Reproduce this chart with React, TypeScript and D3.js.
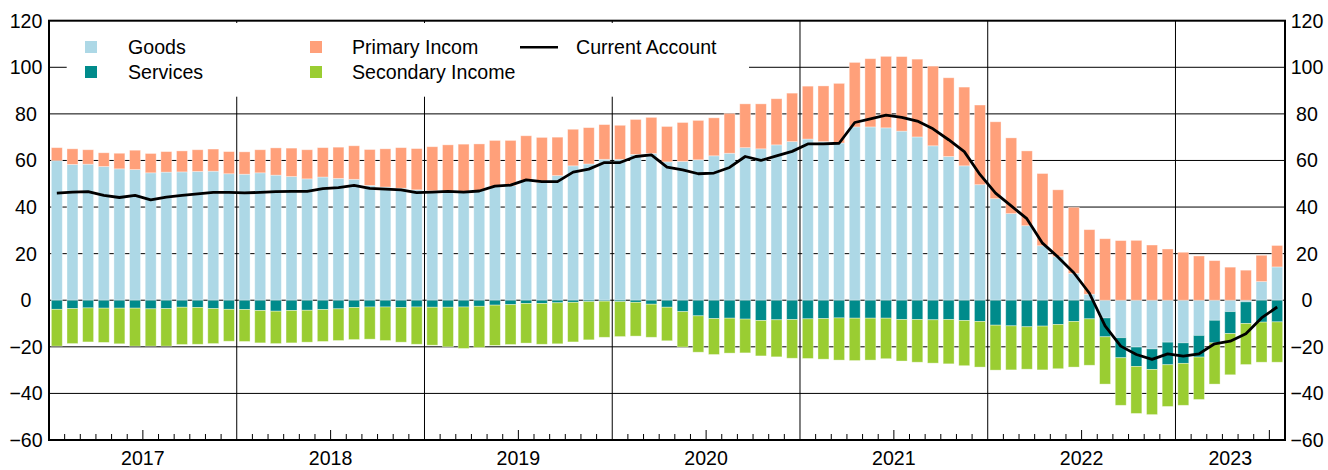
import React from 'react';
import * as d3 from 'd3';

// monthly data, Jan 2017 .. Jul 2023
const years = ['2017', '2018', '2019', '2020', '2021', '2022', '2023'];
const monthsPerYear = [12, 12, 12, 12, 12, 12, 7];

const goods = [
  59.9, 58.3, 58.4, 57.4, 56.4, 56.1, 54.7, 55.0, 55.1, 55.3, 55.4, 54.3,
  54.1, 54.7, 53.7, 53.1, 52.1, 52.9, 52.3, 51.9, 49.3, 48.6, 48.1, 47.4,
  47.0, 46.8, 46.6, 47.2, 48.8, 49.2, 51.4, 50.5, 53.5, 57.7, 58.5, 60.5,
  60.5, 62.6, 63.0, 59.4, 59.6, 60.3, 62.0, 63.1, 65.5, 65.0, 66.7, 68.1,
  69.2, 68.1, 67.5, 74.4, 74.4, 74.0, 72.6, 70.1, 66.3, 61.7, 57.7, 49.6,
  43.6, 37.2, 32.0, 23.4, 18.7, 11.5, 2.6, -7.6, -16.1, -20.1, -20.9, -18.0,
  -18.3, -15.1, -8.6, -4.9, -0.7, 8.0, 14.3,
];

const services = [
  -3.9, -3.6, -3.3, -3.4, -3.4, -3.4, -3.7, -3.6, -3.0, -3.1, -3.6, -3.9,
  -4.0, -4.4, -4.7, -4.4, -4.3, -4.0, -3.7, -3.1, -2.9, -2.9, -3.1, -2.9,
  -3.0, -3.0, -2.9, -2.6, -2.1, -1.9, -1.4, -1.4, -1.1, -0.9, -0.6, -0.4,
  -0.6, -0.9, -1.7, -3.0, -4.9, -6.7, -7.9, -7.7, -8.1, -8.7, -8.4, -8.3,
  -8.0, -7.9, -7.6, -7.7, -7.7, -7.7, -8.3, -8.3, -8.4, -8.3, -8.7, -9.1,
  -10.7, -11.0, -11.4, -11.1, -10.4, -9.1, -8.0, -8.1, -8.6, -8.3, -8.8, -9.7,
  -8.8, -9.3, -9.7, -9.4, -9.3, -9.4, -9.3,
];

const primaryIncome = [
  5.6, 6.7, 6.2, 5.9, 6.7, 8.3, 8.3, 8.8, 9.0, 9.3, 9.5, 9.5,
  9.6, 9.9, 11.7, 12.2, 12.5, 12.6, 13.4, 14.4, 15.4, 16.4, 17.4, 17.7,
  18.9, 19.9, 20.4, 19.9, 19.8, 19.4, 19.2, 19.4, 16.5, 15.7, 15.6, 14.9,
  14.6, 15.0, 15.5, 15.2, 16.7, 16.9, 16.3, 17.1, 18.8, 19.3, 19.8, 20.8,
  22.7, 23.9, 25.6, 27.7, 29.3, 30.7, 32.0, 33.4, 34.2, 33.8, 33.8, 34.2,
  33.0, 32.5, 32.1, 31.0, 28.7, 28.4, 27.7, 26.4, 25.6, 25.7, 23.7, 22.0,
  20.6, 19.0, 17.0, 14.2, 12.9, 11.3, 9.2,
];

const secondaryIncome = [
  -15.8, -15.0, -14.6, -14.7, -15.3, -16.3, -16.0, -16.1, -16.0, -15.8, -15.0, -13.7,
  -13.7, -13.9, -13.9, -13.9, -13.7, -13.7, -13.6, -13.8, -13.8, -14.4, -14.9, -16.0,
  -16.3, -17.0, -17.8, -17.7, -17.3, -17.1, -17.0, -17.5, -17.6, -17.0, -16.4, -15.5,
  -15.0, -14.5, -14.2, -14.4, -15.2, -15.6, -15.4, -15.0, -14.5, -15.2, -15.9, -16.6,
  -17.0, -17.4, -18.1, -18.2, -18.0, -17.4, -17.8, -18.3, -18.6, -19.0, -19.4, -19.6,
  -19.3, -18.9, -18.2, -18.8, -19.0, -19.6, -19.9, -20.3, -20.4, -20.2, -19.4, -17.9,
  -18.0, -18.2, -17.7, -17.7, -17.6, -17.2, -17.3,
];

const currentAccount = [
  46.0, 46.4, 46.6, 45.0, 44.1, 45.0, 43.1, 44.3, 45.0, 45.7, 46.3, 46.3,
  46.1, 46.3, 46.6, 46.7, 46.7, 47.9, 48.3, 49.3, 48.0, 47.7, 47.4, 46.2,
  46.4, 46.7, 46.4, 46.9, 49.0, 49.4, 51.7, 50.9, 50.9, 55.0, 56.3, 59.1,
  59.1, 61.7, 62.4, 57.1, 56.0, 54.3, 54.6, 57.0, 61.7, 60.0, 62.0, 63.9,
  67.1, 67.1, 67.4, 76.3, 77.9, 79.5, 78.5, 76.9, 73.6, 68.9, 63.8, 54.0,
  46.0, 40.5, 35.0, 24.5, 18.5, 11.8, 3.0, -11.0, -19.7, -23.3, -25.4, -23.0,
  -24.0, -23.0, -18.7, -17.6, -14.4, -7.6, -2.9,
];

const yTicks = [120, 100, 80, 60, 40, 20, 0, -20, -40, -60];

const seriesKeys = ['goods', 'services', 'primary', 'secondary'];
const colors: Record<string, string> = {
  goods: '#add8e6',
  services: '#008b8b',
  primary: '#ffa07a',
  secondary: '#9acd32',
};

const FONT = '"Liberation Sans", Arial, sans-serif';
const FS = 19.6;

const App = () => {
  const width = 1328;
  const height = 470;
  const plot = { left: 49, right: 1285, top: 20.7, bottom: 440 };

  const months = years.flatMap((yr, i) => d3.range(monthsPerYear[i]).map((m) => `${yr}-${m + 1}`));

  const x = d3
    .scaleBand()
    .domain(months)
    .range([plot.left, plot.right])
    .paddingInner(0.3)
    .paddingOuter(0.15);
  // month boundaries
  const xm = d3.scaleLinear().domain([0, months.length]).range([plot.left, plot.right]);
  const y = d3.scaleLinear().domain([-60, 120]).range([plot.bottom, plot.top]);

  const rows = months.map((m, i) => ({
    month: m,
    goods: goods[i],
    services: services[i],
    primary: primaryIncome[i],
    secondary: secondaryIncome[i],
  }));

  const stacked = d3
    .stack<any>()
    .keys(seriesKeys)
    .offset(d3.stackOffsetDiverging)(rows);

  const linePath = d3
    .line<number>()
    .x((_, i) => x(months[i])! + x.bandwidth() / 2)
    .y((d) => y(d))(currentAccount);

  const yearStarts = [0, ...d3.cumsum(monthsPerYear)].slice(0, years.length);
  const boundaries = yearStarts.slice(1);

  // legend box
  const legend = { x: 66.7, y: 23, w: 682.3, h: 73.7 };

  const monthTicks = d3.range(1, months.length).filter((i) => i % 12 !== 0);

  return (
    <div style={{ position: 'absolute', left: 0, top: 0 }}>
      <svg width={width} height={height} style={{ display: 'block', fontFamily: FONT }}>
        <rect x={0} y={0} width={width} height={height} fill="#fff" />

        {/* gridlines */}
        {yTicks
          .filter((t) => t !== 120 && t !== -60)
          .map((t) => (
            <line key={t} x1={plot.left} x2={plot.right} y1={y(t)} y2={y(t)} stroke="#000" strokeWidth={1} />
          ))}

        {/* year separators */}
        {boundaries.map((b) => (
          <line key={b} x1={xm(b)} x2={xm(b)} y1={plot.top} y2={plot.bottom} stroke="#000" strokeWidth={1} />
        ))}

        {/* legend background */}
        <rect x={legend.x} y={legend.y} width={legend.w} height={legend.h} fill="#fff" />

        {/* bars */}
        {stacked.map((s) => (
          <g key={s.key} fill={colors[s.key]}>
            {s.map((d, i) => {
              const y0 = y(d[0]);
              const y1 = y(d[1]);
              const h = Math.abs(y0 - y1);
              if (h < 0.01) return null;
              return (
                <rect
                  key={i}
                  x={x(months[i])}
                  y={Math.min(y0, y1)}
                  width={x.bandwidth()}
                  height={h}
                  stroke="#fff"
                  strokeOpacity={0.45}
                  strokeWidth={0.8}
                />
              );
            })}
          </g>
        ))}

        {/* current account */}
        <path d={linePath!} fill="none" stroke="#000" strokeWidth={2.8} strokeLinejoin="round" />

        {/* frame */}
        <rect
          x={plot.left}
          y={plot.top}
          width={plot.right - plot.left}
          height={plot.bottom - plot.top}
          fill="none"
          stroke="#000"
          strokeWidth={2}
        />

        {/* month ticks */}
        {monthTicks.map((i) => (
          <line
            key={i}
            x1={xm(i)}
            x2={xm(i)}
            y1={plot.bottom}
            y2={plot.bottom - (i % 12 === 6 ? 10 : 6)}
            stroke="#000"
            strokeWidth={1}
          />
        ))}

        {/* y tick labels */}
        {yTicks.map((t) => {
          const label = t < 0 ? `\u2212${Math.abs(t)}` : `${t}`;
          return (
            <g key={t} fontSize={FS} fill="#000">
              <text x={26} y={y(t) + 7} textAnchor="middle">
                {label}
              </text>
              <text x={1307} y={y(t) + 7} textAnchor="middle">
                {label}
              </text>
            </g>
          );
        })}

        {/* year labels */}
        {years.map((yr, i) => {
          const cx = (xm(yearStarts[i]) + xm(yearStarts[i] + monthsPerYear[i])) / 2;
          return (
            <text key={yr} x={cx} y={465} fontSize={FS} textAnchor="middle">
              {yr}
            </text>
          );
        })}

        {/* legend */}
        <g fontSize={FS}>
          <rect x={85} y={41} width={12} height={12} fill={colors.goods} />
          <text x={128} y={53.8}>Goods</text>
          <rect x={85} y={66} width={12} height={12} fill={colors.services} />
          <text x={128} y={79}>Services</text>
          <rect x={310} y={41} width={12} height={12} fill={colors.primary} />
          <text x={352} y={53.8}>Primary Incom</text>
          <rect x={310} y={66} width={12} height={12} fill={colors.secondary} />
          <text x={352} y={79}>Secondary Income</text>
          <line x1={520} x2={558} y1={47.3} y2={47.3} stroke="#000" strokeWidth={2.5} />
          <text x={576} y={53.8}>Current Account</text>
        </g>
      </svg>
    </div>
  );
};

export default App;
